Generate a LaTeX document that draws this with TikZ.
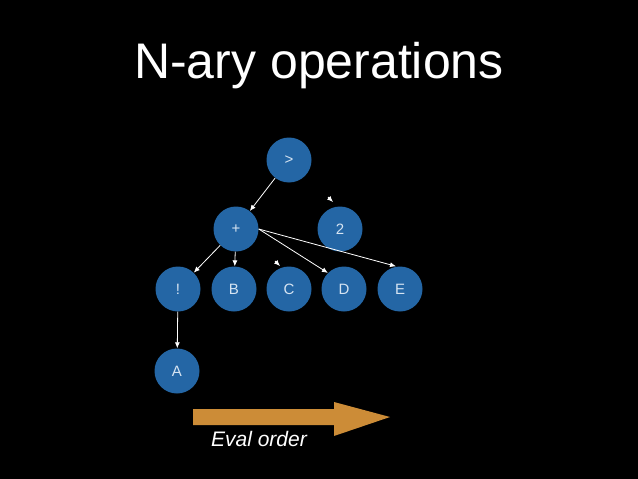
\documentclass[tikz,border=0pt]{standalone}
\usepackage{fontspec}
\setmainfont{Liberation Sans}
\usepackage{tikz}
\usetikzlibrary{shapes, arrows.meta}
\definecolor{NodeBlue}{HTML}{2466A5}
\definecolor{LabelGrey}{HTML}{D6E4F2}
\definecolor{EvalOrange}{HTML}{CC8C37}

\tikzset{
  opnode/.style={circle, fill=NodeBlue, minimum size=45pt, inner sep=0pt,
    text=LabelGrey, font=\fontsize{15}{15}\selectfont},
  edge/.style={->, white, line width=0.8pt}
}

\begin{document}
\begin{tikzpicture}[x=1pt, y=-1pt, >={Latex[length=6pt,width=5pt]}]
        \fill[black] (0,0) rectangle (638,479);
        \useasboundingbox (0,0) rectangle (638,479);
        \node[white, font=\fontsize{50}{50}\selectfont] (title) at (319,66) {N-ary operations};
        % tree
        \node[opnode] (gt) at (289,160) {>};
        \node[opnode] (plus) at (236,229) {+};
        \node[opnode] (two) at (340,229) {2};
        \node[opnode] (not) at (178,289) {!};
        \node[opnode] (b) at (234,289) {B};
        \node[opnode] (c) at (289,289) {C};
        \node[opnode] (d) at (344,289) {D};
        \node[opnode] (e) at (400,289) {E};
        \node[opnode] (a) at (177,371) {A};
        \draw[edge] (gt) -- (plus);
        \draw[edge] (plus) -- (not);
        \draw[edge] (plus) -- (b);
        \draw[edge] (plus.east) -- (d.north west);
        \draw[edge] (plus.east) -- ([xshift=-4pt]e.north);
        \draw[edge] (not) -- (a);
        % loose arrow heads
        \coordinate (twofrom) at (328,197);
        \coordinate (twotip) at (333,202);
        \coordinate (cfrom) at (275,261);
        \coordinate (ctip) at (280,266);
        \draw[edge] (twofrom) -- (twotip);
        \draw[edge] (cfrom) -- (ctip);
        % eval order arrow
        \fill[EvalOrange] (193,409) -- (334,409) -- (334,402) -- (390,417)
          -- (334,436) -- (334,425) -- (193,425) -- cycle;
        \node[white, font=\fontsize{21}{21}\selectfont\itshape] (evalorder) at (259,439) {Eval order};
      \end{tikzpicture}
\end{document}
